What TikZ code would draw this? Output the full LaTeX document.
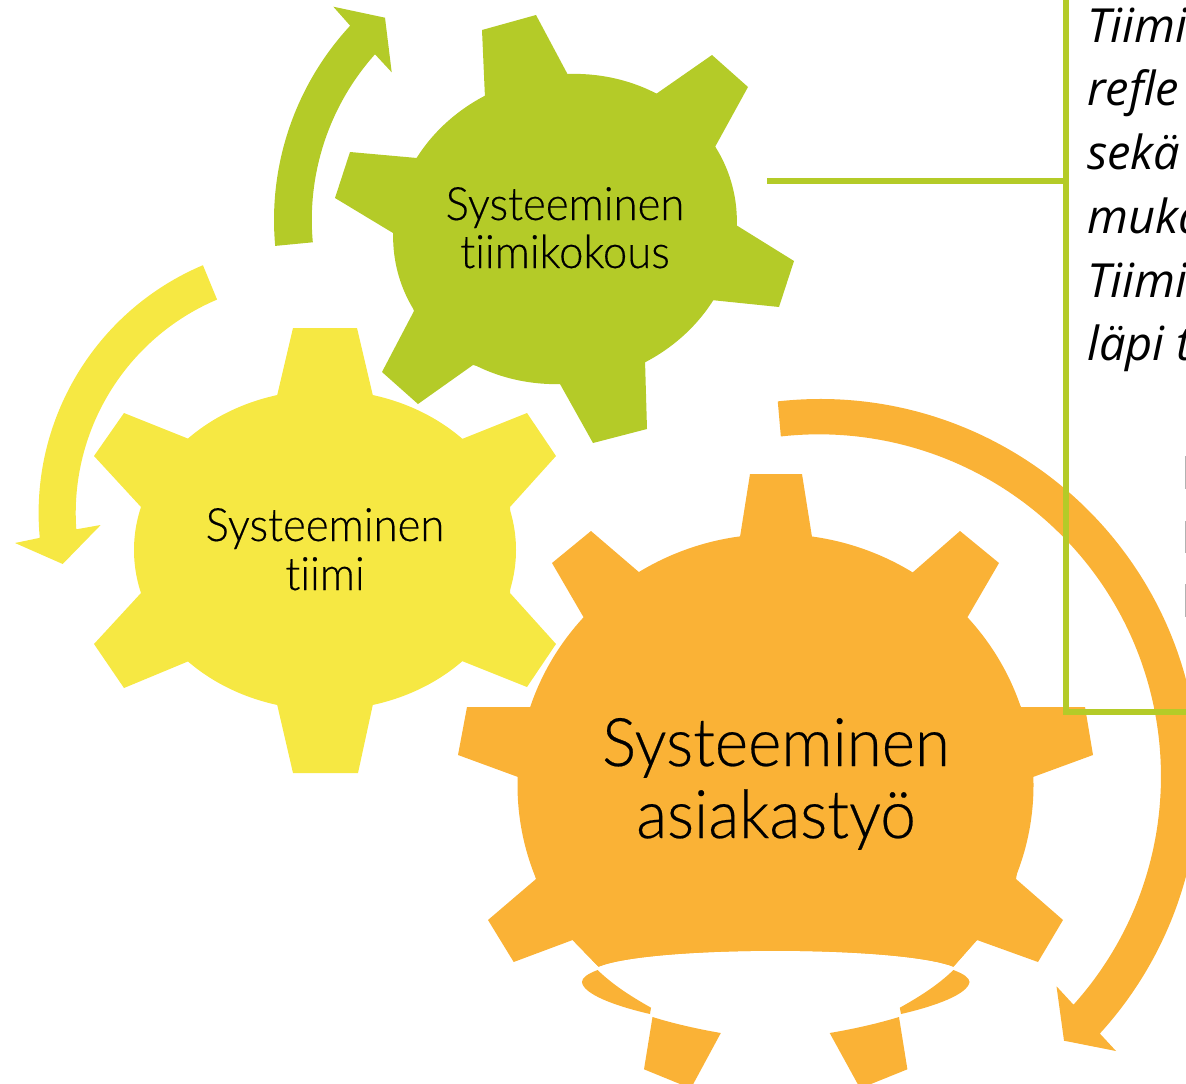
\documentclass[tikz,border=0pt]{standalone}
\usepackage{fontspec}
\setmainfont{Carlito}
\newfontfamily\gearfont[FakeStretch=0.95,FakeBold=0.35,Ligatures=NoCommon]{Lato Light}
\newfontfamily\bodyital{Open Sans}
\definecolor{gearGreen}{HTML}{B4CB28}
\definecolor{gearYellow}{HTML}{F6E843}
\definecolor{gearOrange}{HTML}{FAB236}
\tikzset{
  gearlabel/.style={anchor=base,inner sep=0pt,text=black},
  smalllabel/.style={gearlabel,font=\gearfont\fontsize{46}{46}\selectfont},
  biglabel/.style={gearlabel,font=\gearfont\fontsize{67}{67}\selectfont},
  boxline/.style={draw=gearGreen,line width=5.6pt,line join=miter},
  boxtext/.style={anchor=base west,inner sep=0pt,text=black,font=\bodyital\itshape\fontsize{47}{64}\selectfont},
}
\begin{document}
\begin{tikzpicture}[x=1pt,y=-1pt]
\useasboundingbox (0,0) rectangle (1186,1084);
% green gear
\fill[gearGreen,shift={(565,229)},rotate=13.5] (0,0) ellipse [x radius=172.8pt,y radius=154pt];
\fill[gearGreen] (482,30)--(536,15)--(568,75)--(656,94)--(712,55)--(748,87)--(715,147)--(736,225)--(794,261)--(779,307)--(711,300)--(645,360)--(647,429)--(593,443)--(560,384)--(473,365)--(418,404)--(382,372)--(414,311)--(393,233)--(335,198)--(350,152)--(417,158)--(485,98)--cycle;
% yellow gear
\fill[gearYellow] (325,550) ellipse [x radius=191pt,y radius=160pt];
\fill[gearYellow] (293,328)--(357,328)--(373,396)--(462,439)--(527,413)--(556,456)--(510,507)--(510,593)--(556,644)--(527,687)--(462,661)--(373,704)--(358,773)--(293,773)--(277,704)--(189,661)--(124,688)--(94,644)--(141,593)--(141,507)--(94,456)--(124,413)--(189,439)--(277,396)--cycle;
% orange gear
\begin{scope}
\clip (0,0)--(1186,0)--(1186,940)--(977,940)--(953.4,966.7) .. controls (900,945.5) and (650,945.5) .. (598.5,966.7)--(572.6,940)--(0,940)--cycle;
\fill[gearOrange] (775.5,785) ellipse [x radius=258pt,y radius=251pt];
\end{scope}
\fill[gearOrange] (750,474)--(802,474)--(812,537)--(912,573)--(960,531)--(999,563)--(967,618)--(1021,707)--(1085,707)--(1093,755)--(1033,777)--(1016,879)--(1063,920)--(1038,962)--(977,940)--(953.4,966.7) .. controls (900,945.5) and (650,945.5) .. (598.5,966.7)--(572.6,940)--(513.7,962)--(488,920)--(536,879)--(518,777)--(458,755)--(467,707)--(531,707)--(584,618)--(552,563)--(591,531)--(640,573)--(740,537)--cycle;
% lower parts of the orange gear
\fill[gearOrange] (597.6,970) .. controls (587,974) and (582,978) .. (582,982) .. controls (583,994) and (615,1006) .. (650,1014)--(651,1007.7) .. controls (632,997) and (613,985) .. cycle;
\fill[gearOrange] (953.4,970) .. controls (964,974) and (969.5,978) .. (969.5,982) .. controls (968,994) and (936,1006) .. (901,1014)--(899.8,1007.7) .. controls (919,997) and (938,985) .. cycle;
\fill[gearOrange] (652.5,1017) .. controls (675,1024) and (698,1029) .. (720.8,1033)--(690,1090)--(680,1084)--(644,1069.3)--cycle;
\fill[gearOrange] (899,1017) .. controls (876,1024) and (853,1029) .. (829.7,1033)--(861,1090)--(871,1084)--(907.4,1069.3)--cycle;
% curved arrows
\fill[gearGreen] ([shift={(560,220)}]185.2:286pt) arc[start angle=185.2,end angle=137.2,radius=286pt]--(333.3,6.7)--(385,17.7)--(391.7,72.3)--(375,54.3) arc[start angle=138.2,end angle=185.2,radius=248.3pt]--cycle;
\fill[gearYellow] ([shift={(307.6,513)}]112.9:269pt) arc[start angle=112.9,end angle=185.3,radius=269pt]--(15,543)--(62.7,564)--(100.7,525)--(76.3,529.3) arc[start angle=184,end angle=113,radius=232pt]--cycle;
\fill[gearOrange] ([shift={(820,778)}]96.4:379pt) arc[start angle=96.4,end angle=-42.4,radius=379pt]--(1116,1051)--(1064,1040.7)--(1056.5,986.3)--(1073.5,1004.7) arc[start angle=-41.9,end angle=96.4,radius=342pt]--cycle;
% labels
\node[smalllabel] (lgreena) at (565,220) {Systeeminen};
\node[smalllabel] (lgreenb) at (565,268) {tiimikokous};
\node[smalllabel] (lyellowa) at (325,541) {Systeeminen};
\node[smalllabel] (lyellowb) at (325,590) {tiimi};
\node[biglabel] (lorangea) at (776,766) {Systeeminen};
\node[biglabel] (lorangeb) at (776,838) {asiakastyö};
% text box and connector
\coordinate (boxtop) at (1066,-10);
\coordinate (boxend) at (1200,712);
\coordinate (gearright) at (767,181);
\draw[boxline] (boxtop) |- (boxend);
\draw[boxline] (gearright) -- (gearright -| boxtop);
\node[boxtext] (t1) at (1087,42) {Tiimi};
\node[boxtext] (t2) at (1087,105) {refle};
\node[boxtext] (t3) at (1087,169) {sekä};
\node[boxtext] (t4) at (1087,233) {muka};
\node[boxtext] (t5) at (1087,297) {Tiimi};
\node[boxtext] (t6) at (1087,360) {läpi t};
% clipped glyph stems at the right edge
\fill[gray!60] (1185,456) rectangle (1186,489);
\fill[gray!60] (1185,521) rectangle (1186,553);
\fill[gray!60] (1185,584) rectangle (1186,617);
\end{tikzpicture}
\end{document}
